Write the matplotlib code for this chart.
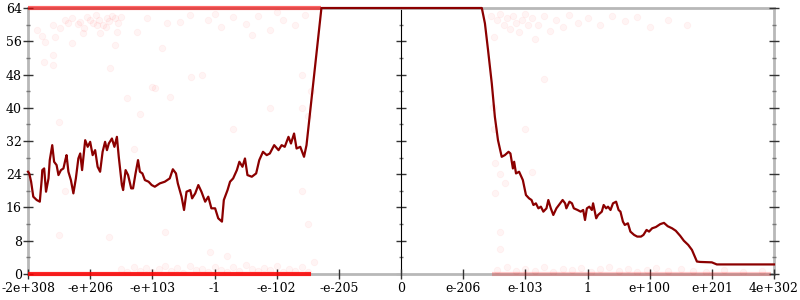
import matplotlib
matplotlib.use("Agg")
import matplotlib.pyplot as plt
import numpy as np

# x positions are in tick units (0 .. 12), one unit per labelled tick
tick_labels = ["-2e+308", "-e+206", "-e+103", "-1", "-e-102", "-e-205", "0",
               "e-206", "e-103", "1", "e+100", "e+201", "4e+302"]

line_x = [0.00, 0.02, 0.05, 0.085, 0.14, 0.19, 0.22, 0.23, 0.26, 0.29, 0.33, 0.35,
          0.39, 0.42, 0.46, 0.49, 0.53, 0.57, 0.60, 0.62, 0.65, 0.69, 0.73, 0.77,
          0.81, 0.84, 0.87, 0.92, 0.96, 1.00, 1.04, 1.08, 1.12, 1.16, 1.20, 1.24,
          1.27, 1.30, 1.35, 1.39, 1.43, 1.46, 1.51, 1.53, 1.57, 1.61, 1.66, 1.69,
          1.73, 1.77, 1.80, 1.84, 1.88, 1.94, 1.99, 2.04, 2.12, 2.20, 2.28, 2.33,
          2.38, 2.41, 2.47, 2.51, 2.55, 2.61, 2.64, 2.69, 2.74, 2.79, 2.85, 2.90,
          2.95, 3.01, 3.06, 3.12, 3.15, 3.21, 3.25, 3.30, 3.36, 3.40, 3.45, 3.49,
          3.53, 3.60, 3.67, 3.72, 3.78, 3.84, 3.89, 3.96, 4.03, 4.08, 4.13, 4.19,
          4.23, 4.28, 4.32, 4.38, 4.44, 4.48, 4.72,
          7.30, 7.35, 7.40, 7.46, 7.51, 7.56, 7.62, 7.67, 7.73, 7.76, 7.80, 7.82,
          7.85, 7.90, 7.96, 8.01, 8.06, 8.10, 8.13, 8.17, 8.21, 8.25, 8.29, 8.34,
          8.37, 8.41, 8.45, 8.50, 8.56, 8.60, 8.64, 8.66, 8.71, 8.75, 8.78, 8.84,
          8.89, 8.93, 8.96, 8.99, 9.03, 9.07, 9.09, 9.14, 9.17, 9.23, 9.26, 9.30,
          9.33, 9.37, 9.41, 9.46, 9.50, 9.53, 9.57, 9.60, 9.65, 9.69, 9.75, 9.80,
          9.86, 9.90, 9.95, 9.99, 10.04, 10.10, 10.17, 10.23, 10.29, 10.36, 10.42,
          10.49, 10.55, 10.62, 10.68, 10.76, 10.81, 11.00, 11.08, 12.00]
line_y = [24.6, 24.2, 22.2, 18.6, 17.8, 17.4, 22.6, 25.0, 25.4, 19.8, 23.0, 27.4,
          31.0, 27.0, 26.2, 23.8, 25.0, 25.4, 27.4, 28.6, 24.6, 22.6, 19.4, 23.0,
          27.8, 29.0, 25.0, 32.2, 30.6, 31.8, 28.6, 29.8, 25.8, 24.6, 29.4, 31.8,
          29.8, 31.4, 32.6, 30.6, 33.0, 28.2, 21.4, 20.2, 25.0, 23.8, 20.6, 20.6,
          24.2, 27.4, 24.6, 24.2, 22.6, 22.2, 21.4, 21.0, 21.8, 22.2, 23.0, 25.2,
          24.2, 21.8, 18.6, 15.4, 19.8, 20.2, 18.2, 19.4, 21.4, 19.8, 17.4, 18.6,
          15.8, 15.8, 13.4, 12.6, 17.8, 20.2, 22.2, 23.0, 25.0, 27.0, 25.8, 27.8,
          23.8, 23.4, 24.2, 27.4, 29.4, 28.6, 29.0, 31.0, 29.8, 31.0, 30.6, 33.0,
          31.4, 33.8, 30.2, 30.6, 28.2, 31.0, 64.0,
          64.0, 60.3, 53.9, 45.9, 37.8, 32.2, 28.2, 28.6, 29.4, 29.0, 25.4, 27.0,
          24.2, 24.6, 22.6, 19.0, 18.2, 17.8, 16.6, 17.0, 15.8, 16.2, 15.0, 15.8,
          17.8, 15.8, 14.2, 15.8, 17.0, 17.8, 17.0, 15.8, 17.4, 17.0, 15.8, 15.4,
          15.0, 15.4, 13.0, 15.8, 16.2, 15.4, 17.0, 13.4, 14.2, 15.0, 16.6, 15.8,
          16.2, 15.4, 17.0, 17.4, 15.4, 15.0, 12.6, 11.8, 12.2, 10.2, 9.4, 9.0,
          9.0, 9.4, 10.6, 10.2, 11.0, 11.3, 12.0, 12.3, 11.5, 11.0, 10.4,
          9.2, 8.0, 7.0, 5.8, 3.0, 2.9, 2.8, 2.3, 2.3]

# faint sample points
pts_x = [0.14, 0.22, 0.27, 0.41, 0.43, 0.51, 0.65, 0.70, 0.84, 0.89, 1.00, 1.11,
         1.16, 1.27, 1.40, 1.43, 1.40, 1.32, 0.41, 0.25, 0.41, 1.75, 1.91, 2.15,
         2.23, 2.45, 2.61, 2.63, 2.04, 2.28, 1.59,
         0.60, 0.70, 0.80, 0.95, 1.05, 1.15, 1.20, 1.30, 1.35, 1.45, 1.50, 1.10,
         0.90, 1.25, 2.90, 3.10, 3.30, 3.50, 3.70, 3.90, 4.10, 4.30, 4.45, 3.00,
         3.60, 4.00,
         7.45, 7.55, 7.60, 7.65, 7.70, 7.75, 7.80, 7.85, 7.90, 7.95, 8.00, 8.05,
         8.10, 8.20, 8.30, 8.40, 8.50, 8.60, 8.70, 8.85, 9.00, 9.20, 9.40, 9.60,
         9.80, 10.00, 10.30, 10.60, 7.50, 8.15,
         1.50, 1.60, 1.70, 1.80, 1.90, 2.00, 2.10, 2.20, 2.30, 2.40, 2.50, 2.60,
         2.70, 2.80, 2.90, 3.00, 3.10, 3.20, 3.30, 3.40, 3.50, 3.60, 3.70, 3.80,
         3.90, 4.00, 4.10, 4.20, 4.30, 4.40, 4.50, 2.93, 3.20,
         7.55, 7.70, 7.85, 8.00, 8.15, 8.30, 8.45, 8.60, 8.75, 8.90, 9.05, 9.20,
         9.35, 9.50, 9.65, 9.80, 9.95, 10.10, 10.30, 10.50, 10.70, 10.90, 11.20,
         11.50, 11.80,
         0.50, 1.70, 2.00, 1.30, 0.50, 2.20, 3.30, 3.90, 4.40, 4.50, 4.60, 7.60,
         7.60, 7.60, 8.00, 8.30, 4.40, 2.80, 1.80, 0.60, 4.40, 4.55, 4.50, 7.48,
         7.50, 7.51, 7.51, 8.10, 7.67]
pts_y = [58.7, 57.3, 55.9, 59.9, 57.1, 59.1, 60.3, 55.5, 60.7, 57.9, 61.1, 59.9,
         57.9, 61.5, 61.5, 58.3, 55.1, 49.5, 52.7, 51.1, 50.3, 58.3, 61.5, 54.3,
         60.3, 60.7, 62.3, 47.5, 44.7, 42.7, 42.3,
         61.0, 61.6, 60.2, 61.8, 60.5, 61.2, 60.0, 60.8, 62.0, 60.4, 61.9, 62.2,
         59.2, 59.4, 61.0, 59.5, 61.8, 60.2, 62.0, 58.8, 61.2, 60.0, 62.3, 62.5,
         57.5, 63.0,
         62.0, 61.0, 62.5, 60.0, 61.5, 59.0, 62.0, 60.5, 58.2, 61.0, 62.5, 59.8,
         61.5, 60.0, 62.0, 58.5, 61.2, 59.5, 62.2, 60.5, 61.5, 59.8, 62.0, 60.8,
         61.8, 59.5, 61.0, 60.0, 57.0, 56.5,
         1.2, 0.5, 1.8, 0.8, 1.5, 0.4, 1.1, 2.0, 0.7, 1.4, 0.3, 1.9,
         0.9, 1.3, 0.5, 1.7, 1.0, 0.4, 1.6, 0.8, 2.2, 1.1, 0.6, 1.5,
         0.9, 1.9, 0.5, 1.2, 0.8, 1.6, 0.4, 5.4, 4.3,
         1.0, 1.6, 0.6, 1.3, 0.8, 1.8, 0.5, 1.2, 0.9, 1.5, 0.4, 1.1,
         1.7, 0.7, 1.3, 0.5, 1.0, 1.4, 0.6, 1.1, 0.8, 0.5, 0.9,
         0.4, 0.7,
         36.5, 30.0, 45.0, 9.0, 9.5, 10.0, 35.0, 40.0, 20.0, 12.0, 3.0, 10.0,
         6.0, 24.0, 35.0, 47.0, 40.0, 48.0, 38.5, 20.0, 48.0, 44.0, 38.0, 40.3,
         35.0, 26.7, 19.4, 24.6, 21.9]

# saturated runs along the top and bottom edges: (start, end)
top_run = (0.0, 4.72)
bottom_run_left = (0.0, 4.55)
bottom_run_right = (7.46, 11.95)

major_y = np.arange(0, 65, 8)
minor_y = np.arange(4, 64, 8)

plt.rcParams['font.family'] = ['DejaVu Serif']
plt.rcParams['font.size'] = 9

fig = plt.figure(figsize=(8, 3), dpi=100)
ax = fig.add_axes([0.035, 0.0867, 0.9325, 0.8866])

spine_col = '#b8b8b8'
tick_col = '#333333'

ax.scatter(pts_x, pts_y, s=22, color='red', alpha=0.045, linewidths=0.6, zorder=2)
ax.plot(top_run, [64, 64], color='red', lw=3, alpha=0.6, solid_capstyle='butt',
        clip_on=False, zorder=3)
ax.plot(bottom_run_left, [0, 0], color='red', lw=3, alpha=0.85, solid_capstyle='butt',
        clip_on=False, zorder=3)
ax.plot(bottom_run_right, [0, 0], color='red', lw=3, alpha=0.22, solid_capstyle='butt',
        clip_on=False, zorder=3)
ax.plot(line_x, line_y, color='#8b0000', lw=1.6, zorder=5, clip_on=False)

ax.set_xlim(0, 12)
ax.set_ylim(0, 64)

for s in ax.spines.values():
    s.set_color(spine_col)
    s.set_linewidth(2)
    s.set_zorder(1)

ax.set_xticks(range(len(tick_labels)))
ax.set_xticklabels(tick_labels)
ax.set_yticks(major_y)
ax.set_yticks(minor_y, minor=True)
ax.tick_params(axis='x', direction='inout', length=7, width=1, color=tick_col, pad=2.5)
ax.tick_params(axis='y', which='major', direction='inout', length=7, width=1,
               color=tick_col, pad=1, right=True)
ax.tick_params(axis='y', which='minor', direction='inout', length=3.5, width=1,
               color='#777777', right=True)

# middle axis at zero
mid = ax.secondary_yaxis(0.5)
mid.spines['left'].set_color('#888888')
mid.spines['left'].set_linewidth(1.3)
mid.set_yticks(major_y)
mid.set_yticks(minor_y, minor=True)
mid.tick_params(which='major', direction='inout', length=7, width=1, color=tick_col,
                labelleft=False, labelright=False)
mid.tick_params(which='minor', direction='inout', length=3.5, width=1, color='#777777',
                labelleft=False, labelright=False)

fig.savefig('out.png', dpi=100)
